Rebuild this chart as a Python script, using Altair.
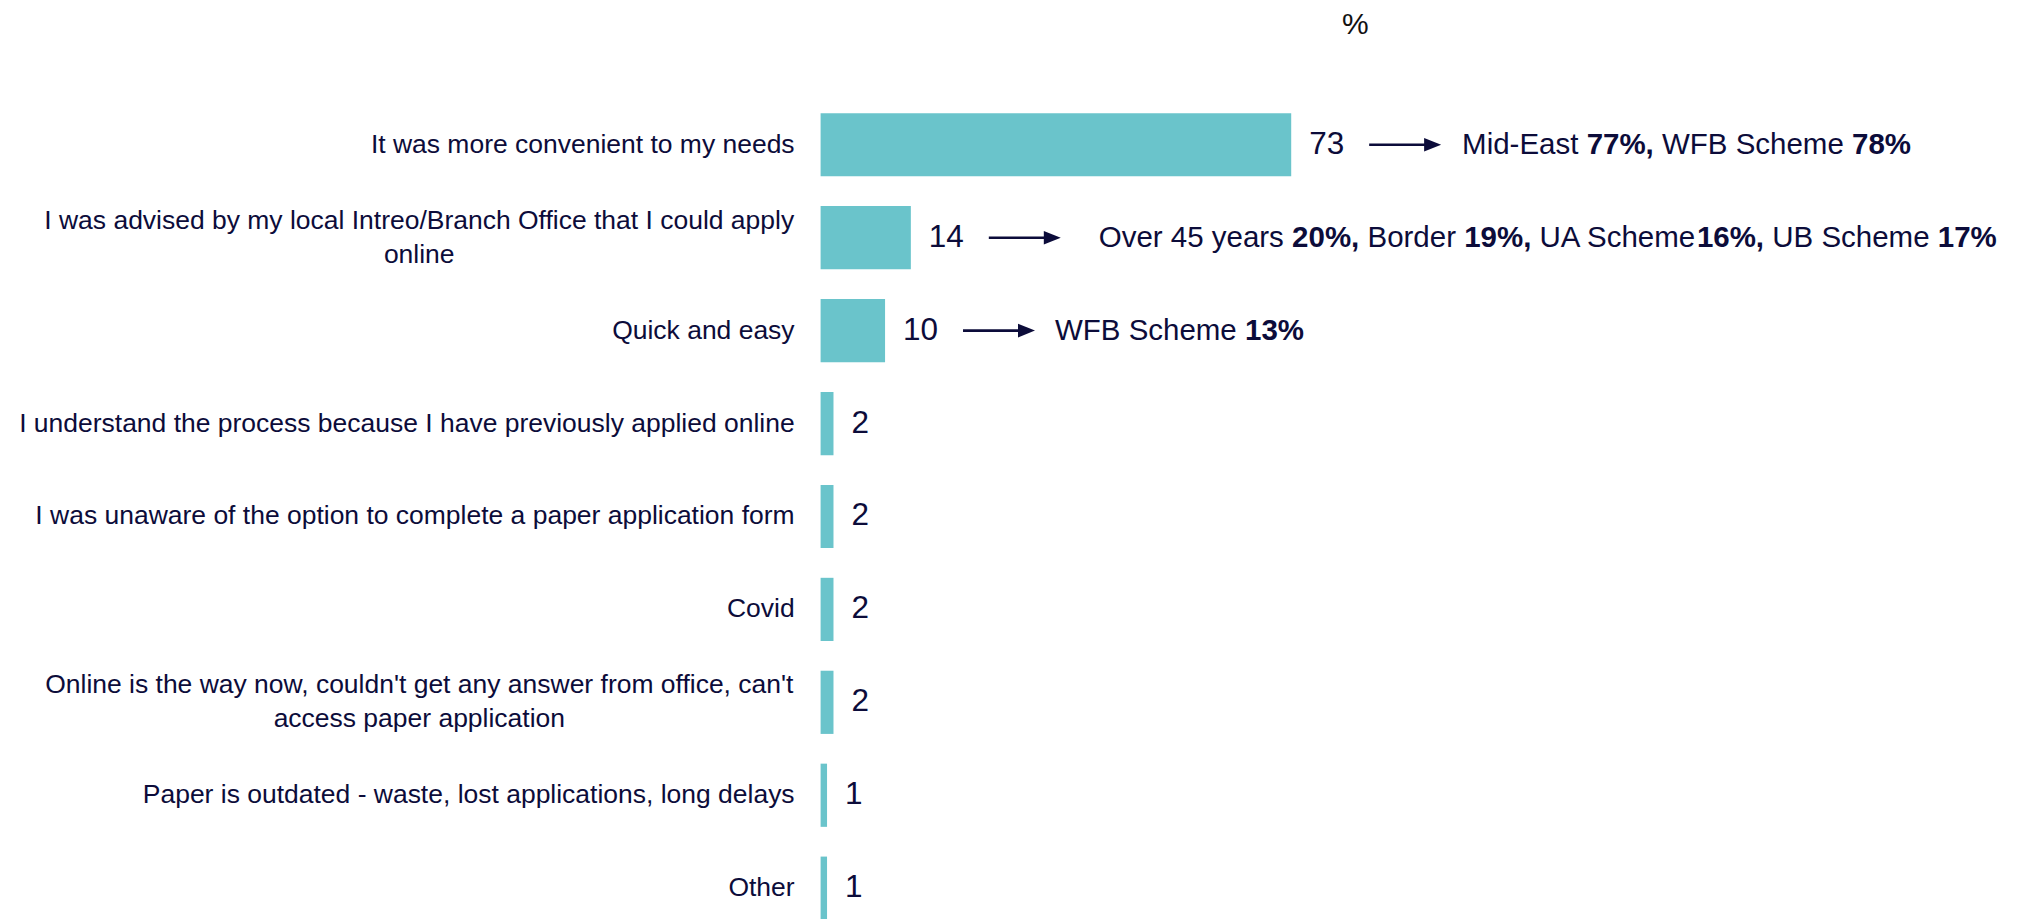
import altair as alt
import pandas as pd

# ---------------- data ----------------
categories = [
    "It was more convenient to my needs",
    "I was advised by my local Intreo/Branch Office that I could apply\nonline",
    "Quick and easy",
    "I understand the process because I have previously applied online",
    "I was unaware of the option to complete a paper application form",
    "Covid",
    "Online is the way now, couldn't get any answer from office, can't\naccess paper application",
    "Paper is outdated - waste, lost applications, long delays",
    "Other",
]
values = [73, 14, 10, 2, 2, 2, 2, 1, 1]

# annotation segments (text, bold) for the first three rows
note_row0 = [("Mid-East ", False), ("77%,", True), (" WFB Scheme ", False), ("78%", True)]
note_row1 = [("Over 45 years ", False), ("20%,", True), (" Border ", False), ("19%,", True),
             (" UA Scheme", False), ("16%,", True), (" UB Scheme ", False), ("17%", True)]
note_row2 = [("WFB Scheme ", False), ("13%", True)]
notes = [note_row0, note_row1, note_row2]

unit_label = "%"

# ---------------- style / layout ----------------
NAVY = "#0c0c3a"
TEAL = "#6ac4cb"
FONT = "Liberation Sans"
PLOT_W = 645
PLOT_H = 807
XMAX = 100
PX = PLOT_W / XMAX  # px per unit

LABEL_SIZE = 26.5
LINE_H = 34
VALUE_SIZE = 31.5
NOTE_SIZE = 29.5

# Arial/Liberation Sans advance widths (em)
W = {" ": .278, "%": .889, ",": .278, "-": .333, "'": .191, "/": .278, ".": .278}
for d in "0123456789":
    W[d] = .556
W.update(dict(zip("ABCDEFGHIJKLMNOPQRSTUVWXYZ",
                  [.667, .667, .722, .722, .667, .611, .778, .722, .278, .5, .667, .556, .833,
                   .722, .778, .667, .778, .722, .667, .611, .722, .667, .944, .667, .667, .611])))
W.update(dict(zip("abcdefghijklmnopqrstuvwxyz",
                  [.556, .556, .5, .556, .556, .278, .556, .556, .222, .222, .5, .222, .833,
                   .556, .556, .556, .556, .333, .5, .278, .556, .5, .722, .5, .5, .5])))


def tw(s, size):
    return sum(W.get(c, .556) for c in s) * size


# labels
lab_rows = []
for c in categories:
    lines = c.split("\n")
    multi = len(lines) > 1
    if multi:
        xpx = -26 - max(tw(l, LABEL_SIZE) for l in lines) / 2
    else:
        xpx = -26
    lab_rows.append({"cat": c, "label": c, "multi": multi, "xl": xpx / PX})
labels_df = pd.DataFrame(lab_rows)

bars_df = pd.DataFrame({"cat": categories, "value": values, "label": [str(v) for v in values]})

# arrows and note segments
ARROW_GAP = 78
ARROW_LEN = 72
TEXT_GAP = [21, 38, 20]
arrow_rows, head_rows, seg_rows = [], [], []
for i, segs in enumerate(notes):
    end = values[i] * PX
    a0 = end + ARROW_GAP
    tip = a0 + ARROW_LEN
    arrow_rows.append({"cat": categories[i], "x": a0 / PX, "x2": (tip - 12) / PX})
    head_rows.append({"cat": categories[i], "x": (tip - 8.5) / PX})
    cur = tip + TEXT_GAP[i]
    for text, bold in segs:
        lead = len(text) - len(text.lstrip(" "))
        xs = cur + tw(" " * lead, NOTE_SIZE)
        seg_rows.append({"cat": categories[i], "x": xs / PX, "text": text.strip(),
                         "bold": bold})
        cur += tw(text, NOTE_SIZE)
arrows_df = pd.DataFrame(arrow_rows)
heads_df = pd.DataFrame(head_rows)
segs_df = pd.DataFrame(seg_rows)

y_enc = alt.Y("cat:N", sort=categories,
              scale=alt.Scale(domain=categories, paddingInner=0.32, paddingOuter=0),
              axis=None)
x_scale = alt.Scale(domain=[0, XMAX])

bars = alt.Chart(bars_df).mark_bar(color=TEAL).encode(
    x=alt.X("value:Q", scale=x_scale, axis=None), y=y_enc)

vals = alt.Chart(bars_df).mark_text(
    align="left", baseline="middle", dx=18, font=FONT, fontSize=VALUE_SIZE, color=NAVY
).encode(x=alt.X("value:Q", scale=x_scale, axis=None), y=y_enc, text="label:N")

lab_single = alt.Chart(labels_df).transform_filter("!datum.multi").mark_text(
    align="right", baseline="middle", font=FONT, fontSize=LABEL_SIZE, color=NAVY
).encode(x=alt.X("xl:Q", scale=x_scale, axis=None), y=y_enc, text="label:N")

lab_multi = alt.Chart(labels_df).transform_filter("datum.multi").mark_text(
    align="center", baseline="middle", font=FONT, fontSize=LABEL_SIZE, color=NAVY,
    lineBreak="\n", lineHeight=LINE_H, dy=-LINE_H / 2
).encode(x=alt.X("xl:Q", scale=x_scale, axis=None), y=y_enc, text="label:N")

arrow_lines = alt.Chart(arrows_df).mark_rule(color=NAVY, strokeWidth=2.6).encode(
    x=alt.X("x:Q", scale=x_scale, axis=None), x2="x2:Q", y=y_enc)

arrow_heads = alt.Chart(heads_df).mark_point(
    shape="M-1,-0.8L1,0L-1,0.8Z", size=289, filled=True, opacity=1, color=NAVY, strokeWidth=0
).encode(x=alt.X("x:Q", scale=x_scale, axis=None), y=y_enc)

seg_reg = alt.Chart(segs_df).transform_filter("!datum.bold").mark_text(
    align="left", baseline="middle", font=FONT, fontSize=NOTE_SIZE, color=NAVY
).encode(x=alt.X("x:Q", scale=x_scale, axis=None), y=y_enc, text="text:N")

seg_bold = alt.Chart(segs_df).transform_filter("datum.bold").mark_text(
    align="left", baseline="middle", font=FONT, fontSize=NOTE_SIZE, color=NAVY,
    fontWeight="bold"
).encode(x=alt.X("x:Q", scale=x_scale, axis=None), y=y_enc, text="text:N")

unit = alt.Chart(pd.DataFrame({"t": [unit_label]})).mark_text(
    align="center", baseline="middle", font=FONT, fontSize=30, color="#111111"
).encode(x=alt.value(535), y=alt.value(-88), text="t:N")

chart = alt.layer(bars, vals, lab_single, lab_multi, arrow_lines, arrow_heads,
                  seg_reg, seg_bold, unit).properties(
    width=PLOT_W, height=PLOT_H,
    autosize=alt.AutoSizeParams(type="none"),
    padding={"left": 813, "top": 105, "right": 545, "bottom": 0},
).configure(background="white", view=alt.ViewConfig(stroke=None))

chart.save("out.html", embed_options={"renderer": "svg", "actions": False})
